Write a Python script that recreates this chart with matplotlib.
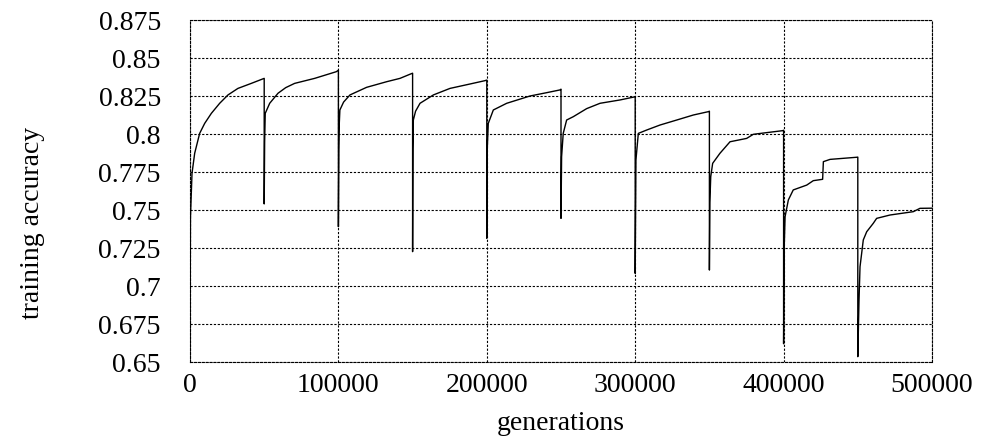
import numpy as np
import matplotlib as mpl
mpl.use('Agg')
import matplotlib.pyplot as plt

mpl.rcParams['font.family'] = ['Liberation Serif', 'DejaVu Serif']
mpl.rcParams['font.size'] = 20

# generations / accuracy, one list per restart
g1 = [0, 300, 1350, 3150, 6500, 9900, 14400, 20000, 25600, 32300, 41300, 50000]
a1 = [0.650, 0.745, 0.7741, 0.7873, 0.8004, 0.807, 0.8136, 0.8202, 0.8257, 0.830, 0.8333, 0.8366]
g2 = [50000, 50300, 50700, 53700, 59300, 64500, 70500, 84000, 98600, 100000]
a2 = [0.754, 0.795, 0.8136, 0.8202, 0.8268, 0.8305, 0.8333, 0.8366, 0.841, 0.842]
g3 = [100000, 100300, 100600, 101000, 103500, 107800, 119000, 132500, 141500, 148700, 150000]
a3 = [0.739, 0.790, 0.807, 0.8158, 0.821, 0.8257, 0.8307, 0.8344, 0.8366, 0.8395, 0.840]
g4 = [150000, 150200, 150500, 152000, 155000, 164000, 175200, 188700, 198800, 200000]
a4 = [0.7226, 0.790, 0.8092, 0.815, 0.8202, 0.8257, 0.830, 0.8329, 0.8351, 0.8355]
g5 = [200000, 200300, 201000, 204400, 213400, 229100, 240400, 249300, 250000]
a5 = [0.7314, 0.790, 0.807, 0.8158, 0.8202, 0.825, 0.8272, 0.829, 0.8295]
g6 = [250000, 250400, 251500, 253800, 258300, 267300, 276300, 289800, 300000]
a6 = [0.7445, 0.785, 0.8004, 0.8092, 0.8114, 0.8167, 0.8202, 0.8224, 0.8245]
g7 = [300000, 300500, 302100, 307700, 316700, 328000, 339200, 349300, 350000]
a7 = [0.7083, 0.7829, 0.8004, 0.8026, 0.8059, 0.8092, 0.8125, 0.8147, 0.815]
g8 = [350000, 350300, 350900, 352200, 357100, 363900, 375100, 379600, 388600, 399400, 400000]
a8 = [0.7105, 0.755, 0.7719, 0.7807, 0.7873, 0.7949, 0.7971, 0.7998, 0.8009, 0.8022, 0.8025]
g9 = [400000, 400400, 401000, 403200, 406500, 415600, 420000, 426300, 426800, 431300, 449300, 450000]
a9 = [0.662, 0.725, 0.7456, 0.7566, 0.7632, 0.7664, 0.7693, 0.7702, 0.7818, 0.7833, 0.7847, 0.7848]
g10 = [450000, 450800, 451500, 453700, 456000, 460400, 462700, 471700, 487400, 491900, 500000]
a10 = [0.6535, 0.690, 0.7127, 0.7303, 0.7357, 0.7412, 0.7445, 0.7467, 0.7489, 0.7511, 0.7512]

gens = g1 + g2 + g3 + g4 + g5 + g6 + g7 + g8 + g9 + g10
acc = a1 + a2 + a3 + a4 + a5 + a6 + a7 + a8 + a9 + a10

yticks = [0.65, 0.675, 0.7, 0.725, 0.75, 0.775, 0.8, 0.825, 0.85, 0.875]
ylabels = ['0.65', '0.675', '0.7', '0.725', '0.75', '0.775', '0.8', '0.825', '0.85', '0.875']
xticks = [0, 100000, 200000, 300000, 400000, 500000]

fig = plt.figure(figsize=(10.01, 4.46), dpi=100)
ax = fig.add_axes([190/1001, 1-362/446, 742/1001, 342/446])

dots = (0, (2, 1.5))
ax.plot(gens, acc, color='k', lw=1.0, zorder=3)

ax.set_xlim(0, 500000)
ax.set_ylim(0.65, 0.875)
ax.set_xticks(xticks)
ax.set_xticklabels([str(x) for x in xticks])
ax.set_yticks(yticks)
ax.set_yticklabels(ylabels)
ax.tick_params(length=0)
ax.tick_params(axis='y', pad=21)
ax.tick_params(axis='x', pad=8)
ax.grid(True, color='k', lw=0.8, linestyle=dots)
for s in ax.spines.values():
    s.set_linestyle(dots)
    s.set_linewidth(0.8)

fig.text(561/1001, 1-424/446, 'generations', ha='center', va='center')
fig.text(33/1001, 1-223/446, 'training accuracy', ha='center', va='center', rotation=90)

fig.savefig('out.png', dpi=100)
